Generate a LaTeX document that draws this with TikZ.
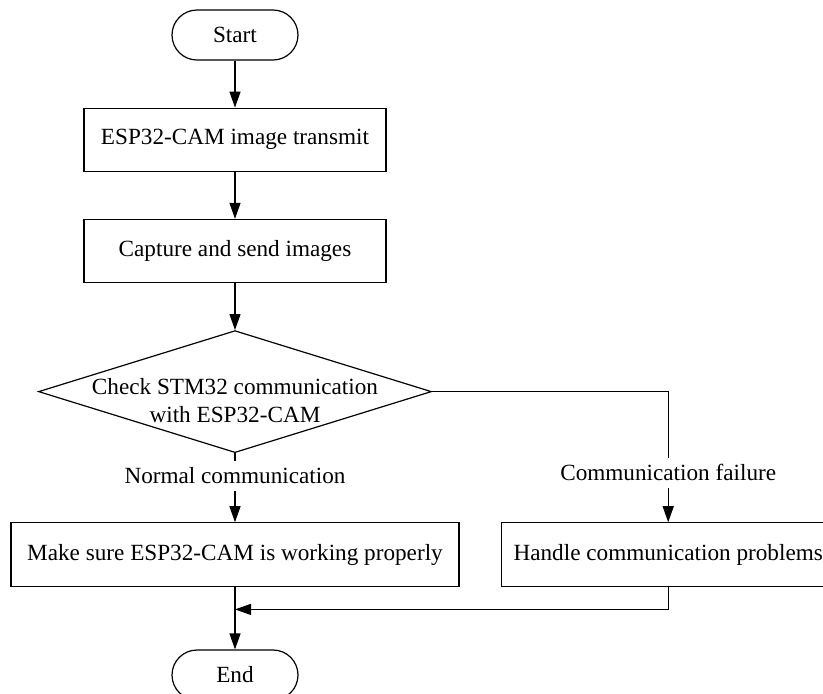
\documentclass[tikz,border=0pt]{standalone}
\usepackage{fontspec}
\setmainfont{Liberation Serif}
\usepackage{tikz}
\usetikzlibrary{positioning, arrows.meta}
\usetikzlibrary{shapes,shapes.geometric}

\begin{document}
\begin{tikzpicture}[-{Triangle[length=8pt,width=5.5pt]}, line width=0.6pt, node distance=23.5pt,
		font=\fontsize{11.6}{14}\selectfont,
		term/.style={rectangle, rounded corners=12.5pt, draw, minimum width=63pt, minimum height=25pt},
		proc/.style={rectangle, draw, minimum height=31.5pt},
		decide/.style={diamond, draw, inner sep=0pt, minimum width=196.5pt, minimum height=61pt}]
		\useasboundingbox (-117.5pt,17.5pt) rectangle (294pt,-329pt);
		
		\node[term] (start) {Start};
		\node[proc, minimum width=151pt, below = of start] (esp) {ESP32-CAM image transmit};
		\node[proc, minimum width=151pt, below = of esp] (cap) {Capture and send images};
		
		\node[decide, below = of cap] (chk) {};
		\node[align=center, yshift=-4.5pt] (chk-txt) at (chk) {Check STM32 communication\\with ESP32-CAM};
		
		\node[proc, minimum width=224pt, minimum height=32pt, below = 34.5pt of chk] (ok) {Make sure ESP32-CAM is working properly};
		\node[proc, minimum width=167pt, minimum height=32pt, right = 20.5pt of ok] (fix) {Handle communication problems};
		
		\coordinate[below = 11pt of ok] (join);
		\node[term, below = 31pt of ok] (stop) {End};
		
		\draw (start) -- (esp);
		\draw (esp) -- (cap);
		\draw (cap) -- (chk);
		\draw (chk) -- node[pos=0.33, fill=white] {Normal communication} (ok);
		\draw (chk.east) -| node[pos=0.81, fill=white] {Communication failure} (fix.north);
		\draw (ok) -- (stop);
		\draw (fix.south) |- (join);
		
	\end{tikzpicture}
\end{document}
